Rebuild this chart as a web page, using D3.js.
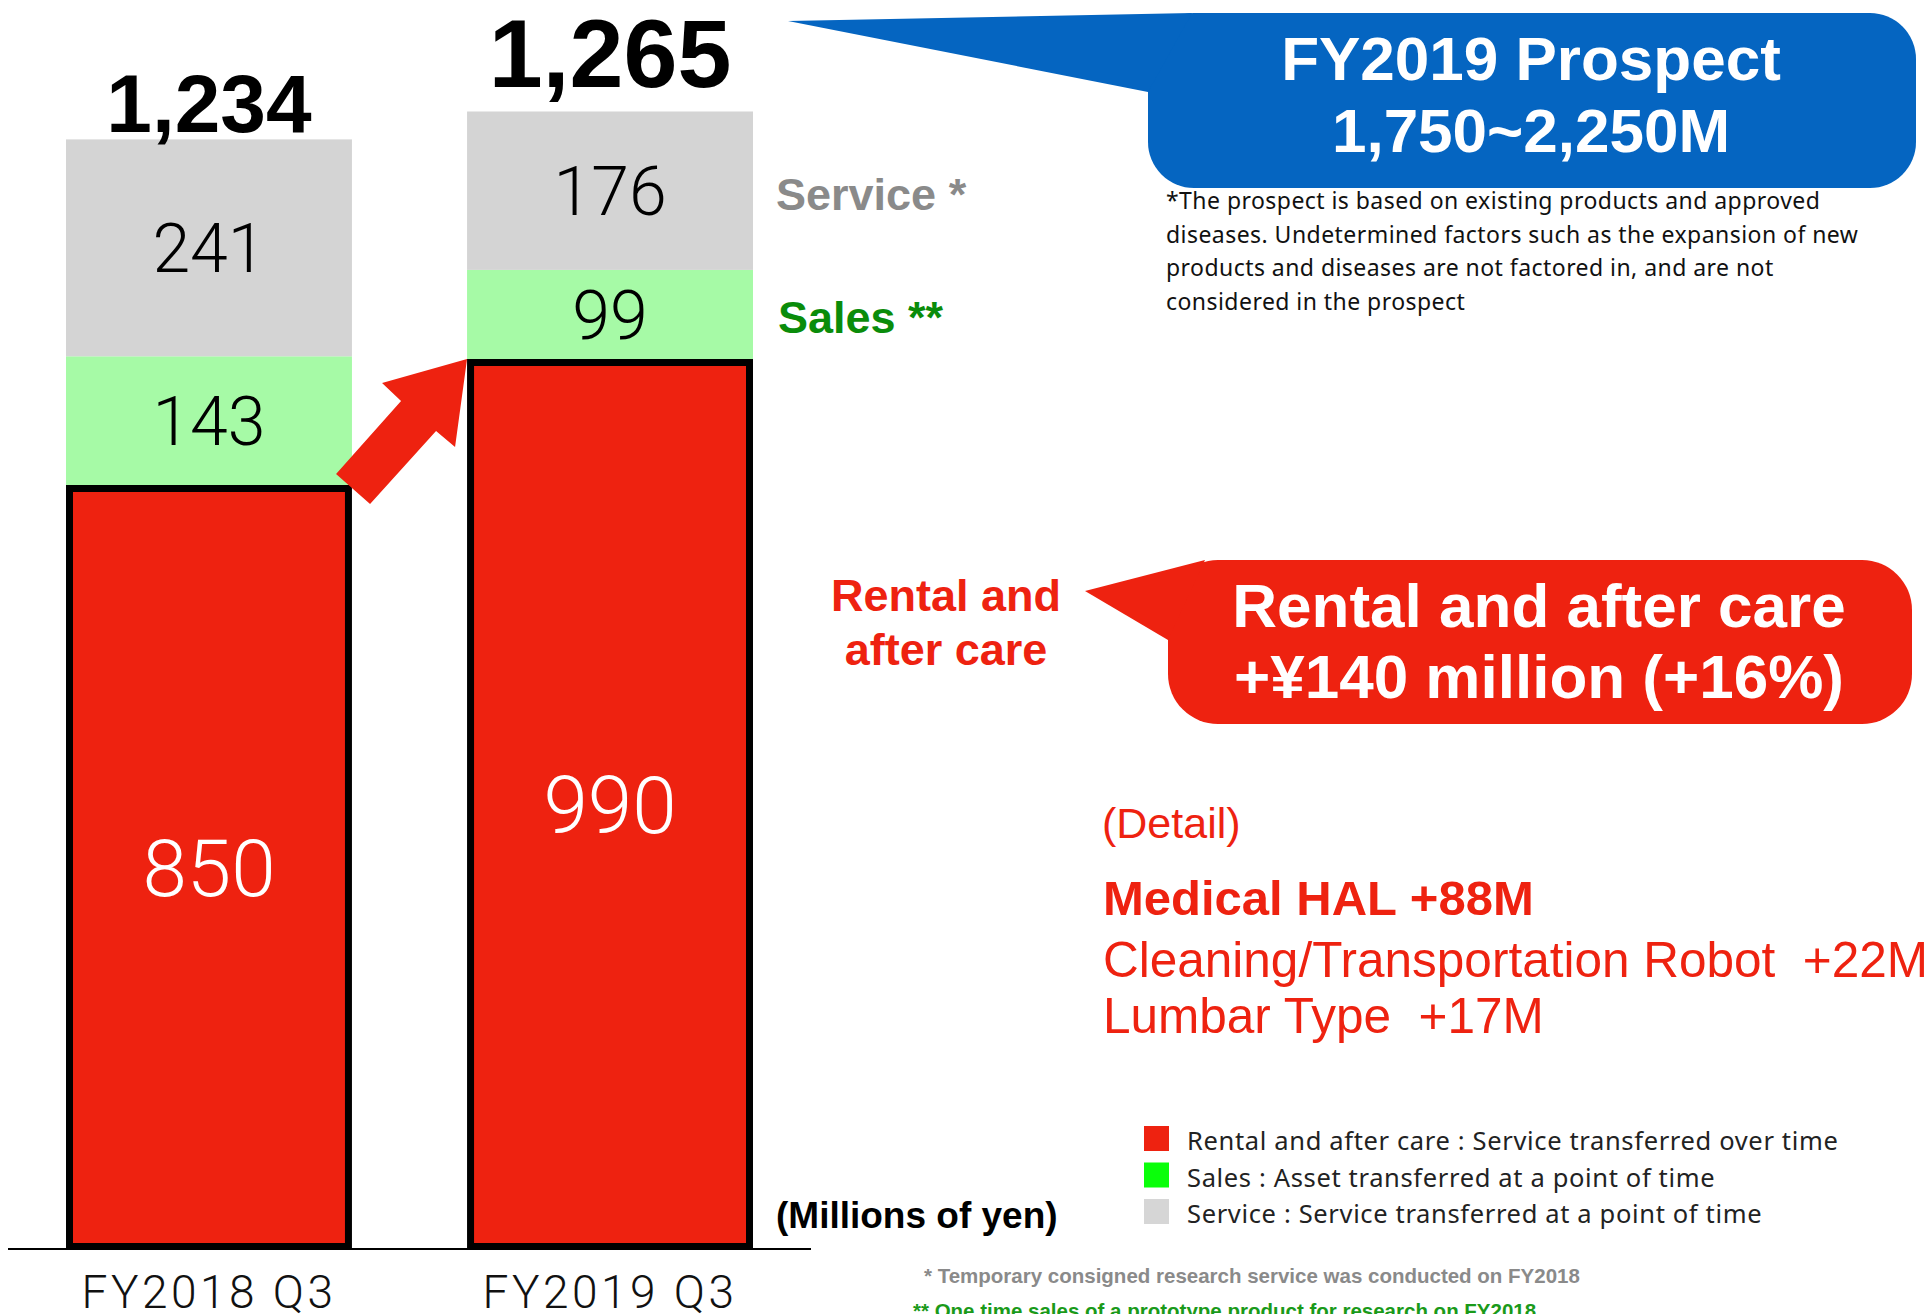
<!DOCTYPE html>
<html>
<head>
<meta charset="utf-8">
<script src="https://cdn.jsdelivr.net/npm/d3@7"></script>
<style>
  body { margin: 0; background: #fff; }
  svg text { font-family: "Liberation Sans", Arial, Helvetica, sans-serif; }
</style>
</head>
<body>
<div id="chart"></div>
<script>
var categories = ["FY2018 Q3", "FY2019 Q3"]
var rental = [850, 990]
var sales = [143, 99]
var service = [241, 176]

var legendLabels = [
  "Rental and after care : Service transferred over time",
  "Sales : Asset transferred at a point of time",
  "Service : Service transferred at a point of time"
]
var prospectLines = ["FY2019 Prospect", "1,750~2,250M"]
var prospectNote = [
  "*The prospect is based on existing products and approved",
  "diseases. Undetermined factors such as the expansion of new",
  "products and diseases are not factored in, and are not",
  "considered in the prospect"
]
var growthLines = ["Rental and after care", "+¥140 million (+16%)"]
var detailLines = ["Medical HAL +88M", "Cleaning/Transportation Robot  +22M", "Lumbar Type  +17M"]

var width = 1932,
    height = 1314

var RED = "#ee2210", BLUE = "#0565c1"

var svg = d3.select("#chart")
  .append("svg")
    .attr("width", width)
    .attr("height", height)

var x = d3.scaleBand()
  .domain(categories)
  .range([66, 753])
  .paddingInner(0.287)

var y = d3.scaleLinear()
  .domain([0, 1000])
  .range([1250, 350])

var keys = ["rental", "sales", "service"]
var color = d3.scaleOrdinal()
  .domain(keys)
  .range([RED, "#a6faa6", "#d4d4d4"])

var rows = categories.map(function(c, i) {
  return {cat: c, rental: rental[i], sales: sales[i], service: service[i]}
})
var series = d3.stack().keys(keys)(rows)

// stacked bars; the rental part gets a thick black frame drawn inside its edge
var bw = x.bandwidth()
svg.selectAll("g.layer")
  .data(series)
  .enter()
  .append("g")
    .attr("class", "layer")
    .attr("fill", function(d) { return color(d.key) })
  .selectAll("rect")
  .data(function(d) { return d.map(function(p) { p.key = d.key; return p }) })
  .enter()
  .append("rect")
    .each(function(d) {
      var inset = d.key == "rental" ? 3.5 : 0
      d3.select(this)
        .attr("x", x(d.data.cat) + inset)
        .attr("y", y(d[1]) + inset)
        .attr("width", bw - 2 * inset)
        .attr("height", y(d[0]) - y(d[1]) - 2 * inset)
        .attr("stroke", d.key == "rental" ? "#000" : "none")
        .attr("stroke-width", 7)
    })

// values inside segments
svg.selectAll("g.layer")
  .selectAll("text")
  .data(function(d) { return d })
  .enter()
  .append("text")
    .attr("x", function(d) { return x(d.data.cat) + bw / 2 })
    .attr("y", function(d) { return (y(d[0]) + y(d[1])) / 2 })
    .attr("dy", "0.355em")
    .attr("text-anchor", "middle")
    .style("font-family", "Roboto, 'Noto Sans', sans-serif")
    .style("font-weight", 300)
    .style("font-size", function(d) { return d.key == "rental" ? "80px" : "68px" })
    .attr("fill", function(d) { return d.key == "rental" ? "#fff" : "#000" })
    .text(function(d) { return d.data[d.key] })

// totals above the bars (second one larger)
var totalSize = [82, 97],
    totalGap = [7, 25]
svg.selectAll("text.total")
  .data(rows)
  .enter()
  .append("text")
    .attr("class", "total")
    .attr("x", function(d) { return x(d.cat) + bw / 2 })
    .attr("y", function(d, i) { return y(d.rental + d.sales + d.service) - totalGap[i] })
    .attr("text-anchor", "middle")
    .style("font-weight", "bold")
    .style("font-size", function(d, i) { return totalSize[i] + "px" })
    .text(function(d) { return d3.format(",")(d.rental + d.sales + d.service) })

// category axis
var axis = svg.append("g")
  .attr("transform", "translate(0," + y(0) + ")")
  .call(d3.axisBottom(x).tickSize(0).tickPadding(25))
axis.select(".domain").remove()
axis.selectAll("text")
  .attr("fill", "#111")
  .style("font-family", "Roboto, 'Noto Sans', sans-serif")
  .style("font-weight", 300)
  .style("font-size", "46px")
  .style("letter-spacing", "3.5px")

svg.append("line")
  .attr("x1", 8).attr("x2", 811)
  .attr("y1", y(0) - 1).attr("y2", y(0) - 1)
  .attr("stroke", "#000")
  .attr("stroke-width", 2)

// red arrow between the rental tops
var tip = [x(categories[1]), y(rental[1])]
var arrowShape = [[0, 0], [-85, 24], [-66, 42], [-131, 115], [-97, 145], [-31, 72], [-12, 88]]
svg.append("polygon")
  .attr("points", arrowShape.map(function(p) { return [tip[0] + p[0], tip[1] + p[1]] }).join(" "))
  .attr("fill", RED)

// series labels next to the second bar
var s2 = series[2][1], s1 = series[1][1]
var sideX = x(categories[1]) + bw + 23
svg.append("text")
  .attr("x", sideX).attr("y", (y(s2[0]) + y(s2[1])) / 2 + 19)
  .attr("fill", "#8a8a8a")
  .style("font-weight", "bold").style("font-size", "45px")
  .text("Service *")
svg.append("text")
  .attr("x", sideX + 2).attr("y", (y(s1[0]) + y(s1[1])) / 2 + 19)
  .attr("fill", "#0a8c0a")
  .style("font-weight", "bold").style("font-size", "45px")
  .text("Sales **")

// blue prospect callout
svg.append("rect")
  .attr("x", 1148).attr("y", 13).attr("width", 768).attr("height", 175)
  .attr("rx", 46).attr("fill", BLUE)
svg.append("polygon")
  .attr("points", "788,21 1192,13 1148,92")
  .attr("fill", BLUE)
svg.selectAll("text.prospect")
  .data(prospectLines)
  .enter()
  .append("text")
    .attr("x", 1531)
    .attr("y", function(d, i) { return 80 + i * 72 })
    .attr("text-anchor", "middle")
    .attr("fill", "#fff")
    .style("font-weight", "bold").style("font-size", "62px")
    .text(function(d) { return d })

svg.selectAll("text.note")
  .data(prospectNote)
  .enter()
  .append("text")
    .attr("x", 1166)
    .attr("y", function(d, i) { return 209 + i * 33.5 })
    .attr("fill", "#111")
    .style("font-family", "'Noto Sans', sans-serif")
    .style("font-size", "23px")
    .style("letter-spacing", "0.45px")
    .text(function(d) { return d })

// red growth callout
svg.append("rect")
  .attr("x", 1168).attr("y", 560).attr("width", 744).attr("height", 164)
  .attr("rx", 50).attr("fill", RED)
svg.append("polygon")
  .attr("points", "1085,591 1205,560 1168,640")
  .attr("fill", RED)
svg.selectAll("text.growth")
  .data(growthLines)
  .enter()
  .append("text")
    .attr("x", 1539)
    .attr("y", function(d, i) { return 627 + i * 71 })
    .attr("text-anchor", "middle")
    .attr("fill", "#fff")
    .style("font-weight", "bold").style("font-size", "62px")
    .text(function(d) { return d })

svg.selectAll("text.rentalLabel")
  .data(["Rental and", "after care"])
  .enter()
  .append("text")
    .attr("x", 946)
    .attr("y", function(d, i) { return 611 + i * 54 })
    .attr("text-anchor", "middle")
    .attr("fill", RED)
    .style("font-weight", "bold").style("font-size", "45px")
    .text(function(d) { return d })

// detail breakdown
svg.append("text")
  .attr("x", 1102).attr("y", 838)
  .attr("fill", RED)
  .style("font-size", "43px")
  .text("(Detail)")
var detailY = [915, 977, 1033]
svg.selectAll("text.detail")
  .data(detailLines)
  .enter()
  .append("text")
    .attr("x", 1103)
    .attr("y", function(d, i) { return detailY[i] })
    .attr("fill", RED)
    .style("white-space", "pre")
    .style("font-weight", function(d, i) { return i == 0 ? "bold" : "normal" })
    .style("font-size", function(d, i) { return i == 0 ? "49px" : "49.5px" })
    .text(function(d) { return d })

// legend
var legendColor = d3.scaleOrdinal().domain(legendLabels).range([RED, "#0aff0a", "#d6d6d6"])
var legend = svg.selectAll("g.legend")
  .data(legendLabels)
  .enter()
  .append("g")
    .attr("class", "legend")
    .attr("transform", function(d, i) { return "translate(1144," + (1126 + i * 36.5) + ")" })
legend.append("rect")
  .attr("width", 25).attr("height", 25)
  .attr("fill", function(d) { return legendColor(d) })
legend.append("text")
  .attr("x", 43).attr("y", 24)
  .attr("fill", "#222")
  .style("font-family", "'Noto Sans', sans-serif")
  .style("font-size", "25.5px")
  .style("letter-spacing", "0.65px")
  .text(function(d) { return d })

svg.append("text")
  .attr("x", 776).attr("y", 1228)
  .style("font-weight", "bold").style("font-size", "37px")
  .text("(Millions of yen)")

// footnotes
svg.append("text")
  .attr("x", 924).attr("y", 1283)
  .attr("fill", "#8a8a8a")
  .style("font-weight", "bold").style("font-size", "20.5px")
  .text("* Temporary consigned research service was conducted on FY2018")
svg.append("text")
  .attr("x", 913).attr("y", 1318)
  .attr("fill", "#1a9a1a")
  .style("font-weight", "bold").style("font-size", "20.5px")
  .text("** One time sales of a prototype product for research on FY2018")
</script>
</body>
</html>
